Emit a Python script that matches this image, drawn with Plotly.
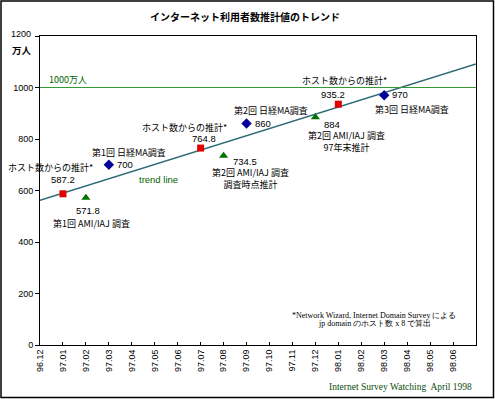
import numpy as np
import plotly.graph_objects as go

months = ["96.12", "97.01", "97.02", "97.03", "97.04", "97.05", "97.06", "97.07", "97.08",
          "97.09", "97.10", "97.11", "97.12", "98.01", "98.02", "98.03", "98.04", "98.05", "98.06"]

host_months = ["97.01", "97.07", "98.01"]
host_vals = [587.2, 764.8, 935.2]

ami_months = ["97.02", "97.08", "97.12"]
ami_vals = [571.8, 734.5, 884]

nikkei_months = ["97.03", "97.09", "98.03"]
nikkei_vals = [700, 860, 970]

y_ticks = [0, 200, 400, 600, 800, 1000, 1200]
y_max = 1200
target_value = 1000

W, H = 495, 399
L, R, T, B = 40, 19, 36, 54
PW, PH = W - L - R, H - T - B

def px(xp):
    return (xp - L) / PW

def py(yp):
    return (H - B - yp) / PH

def pos(m):
    return months.index(m)

hx = [pos(m) for m in host_months]
ax_ = [pos(m) for m in ami_months]
nx = [pos(m) for m in nikkei_months]

all_x = np.array(hx + ax_ + nx, dtype=float)
all_y = np.array(host_vals + ami_vals + nikkei_vals, dtype=float)
slope, icpt = np.polyfit(all_x, all_y, 1)
tx = [0, len(months)]
ty = [icpt + slope * v for v in tx]

JP = "Noto Sans CJK JP"
SANS = "Liberation Sans"
SERIF = "Liberation Serif"

fig = go.Figure()
fig.add_trace(go.Scatter(x=tx, y=ty, mode="lines", line=dict(color="#2f6b78", width=1.5),
                         hoverinfo="skip", showlegend=False))
fig.add_trace(go.Scatter(x=hx, y=host_vals, mode="markers",
                         marker=dict(symbol="square", size=7, color="#e00000"), showlegend=False))
fig.add_trace(go.Scatter(x=ax_, y=ami_vals, mode="markers",
                         marker=dict(symbol="triangle-up", size=8, color="#007000"), showlegend=False))
fig.add_trace(go.Scatter(x=nx, y=nikkei_vals, mode="markers",
                         marker=dict(symbol="diamond", size=8, color="#000099"), showlegend=False))

fig.add_shape(type="line", xref="paper", x0=0, x1=1, yref="y", y0=target_value, y1=target_value,
              line=dict(color="#339933", width=1.2))
# outer frame
fig.add_shape(type="rect", xref="paper", yref="paper", x0=px(1), x1=px(493.5), y0=py(397.5), y1=py(1),
              line=dict(color="black", width=1.5), layer="below")

ann = []

def a(x, y, text, xs=0, ys=0, anchor="center", size=9, font=JP, color="black", xref="x", yref="y"):
    ann.append(dict(x=x, y=y, xref=xref, yref=yref, text=text, showarrow=False,
                    xshift=xs, yshift=ys, xanchor=anchor, yanchor="middle",
                    font=dict(size=size, family=font, color=color)))

NUM = 9.5
host_label = "ホスト数からの推計*"
# host labels
a(hx[0], host_vals[0], f"{host_vals[0]}", 0, 14, size=NUM, font=SANS)
a(hx[0], host_vals[0], host_label, -12, 26)
a(hx[1], host_vals[1], f"{host_vals[1]}", 3, 10, size=NUM, font=SANS)
a(hx[1], host_vals[1], host_label, -16, 21)
a(hx[2], host_vals[2], f"{host_vals[2]}", -5, 10, size=NUM, font=SANS)
a(hx[2], host_vals[2], host_label, 6, 24)

# AMI/IAJ labels
a(ax_[0], ami_vals[0], f"{ami_vals[0]}", 2, -13, size=NUM, font=SANS)
a(ax_[0], ami_vals[0], "第1回 AMI/IAJ 調査", 6, -25.5)
a(ax_[1], ami_vals[1], f"{ami_vals[1]}", 7, -6, anchor="left", size=NUM, font=SANS)
a(ax_[1], ami_vals[1], "第2回 AMI/IAJ 調査<br>調査時点推計", 27, -23)
a(ax_[2], ami_vals[2], f"{ami_vals[2]}", 6.5, -7, anchor="left", size=NUM, font=SANS)
a(ax_[2], ami_vals[2], "第2回 AMI/IAJ 調査<br>97年末推計", 31.5, -24.5)

# Nikkei labels
a(nx[0], nikkei_vals[0], f"{nikkei_vals[0]}", 6, 0, anchor="left", size=NUM, font=SANS)
a(nx[0], nikkei_vals[0], "第1回 日経MA調査", 20, 12)
a(nx[1], nikkei_vals[1], f"{nikkei_vals[1]}", 6, 0, anchor="left", size=NUM, font=SANS)
a(nx[1], nikkei_vals[1], "第2回 日経MA調査", 24.5, 13)
a(nx[2], nikkei_vals[2], f"{nikkei_vals[2]}", 6, 1, anchor="left", size=NUM, font=SANS)
a(nx[2], nikkei_vals[2], "第3回 日経MA調査", 28, -14)

# top y tick label (drawn as text so it is never auto-hidden)
a(px(33), y_max, str(y_max), 0, 2, anchor="right", size=9, font=SANS, xref="paper", yref="y")

# misc texts
a(0.3, target_value, "1000万人", 0, 8.5, anchor="left", size=9, color="#006400")
a(px(158.5), py(179.3), "trend line", size=9.5, font=SANS, color="#006400", xref="paper", yref="paper")
a(px(245), py(16), "<b>インターネット利用者数推計値のトレンド</b>", size=10, xref="paper", yref="paper")
a(px(22), py(50), "<b>万人</b>", size=9.5, xref="paper", yref="paper")
a(px(374), py(315), "*Network Wizard, Internet Domain Survey による", size=8, font=SERIF,
  xref="paper", yref="paper")
a(px(374), py(323.5), "jp domain のホスト数 x 8 で算出", size=8, font=SERIF, xref="paper", yref="paper")
a(px(474), py(387), "Internet Survey Watching  April 1998", anchor="right", size=9.5, font=SERIF,
  color="#0b4d0b", xref="paper", yref="paper")

y_text = [str(v) if v != y_max else "" for v in y_ticks]

fig.update_layout(
    width=W, height=H,
    margin=dict(l=L, r=R, t=T, b=B),
    paper_bgcolor="white", plot_bgcolor="white",
    annotations=ann,
    xaxis=dict(range=[0, len(months)], tickmode="array", tickvals=list(range(len(months))),
               ticktext=months, tickangle=-90, ticks="inside", ticklen=3, tickcolor="black",
               showgrid=False, zeroline=False, showline=True, linecolor="black", linewidth=1,
               mirror=True, tickfont=dict(size=9, family=SANS, color="black")),
    yaxis=dict(range=[0, y_max], tickmode="array", tickvals=y_ticks, ticktext=y_text,
               ticks="outside", ticklen=4,
               tickcolor="black", showgrid=False, zeroline=False, showline=True,
               linecolor="black", linewidth=1, mirror=True,
               tickfont=dict(size=9, family=SANS, color="black")),
)

fig.write_html("out.html", config={"displayModeBar": False},
               post_script="document.body.style.margin='0';")
